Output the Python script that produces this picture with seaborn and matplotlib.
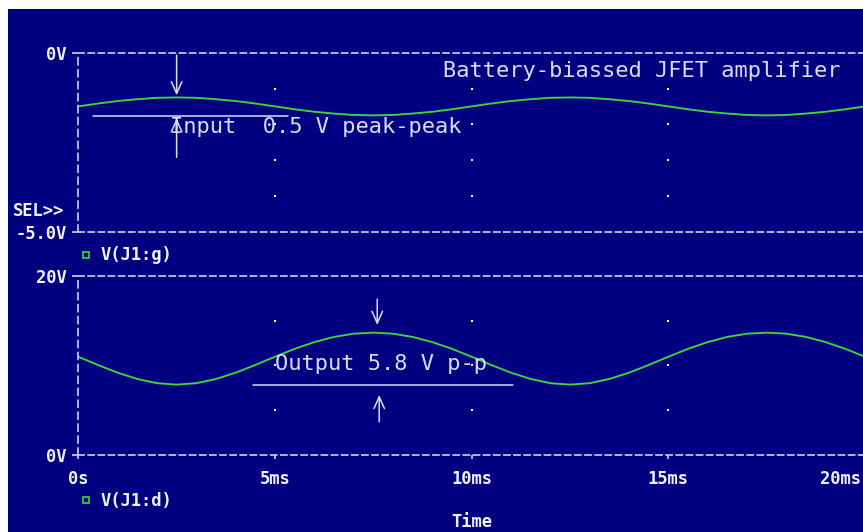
import numpy as np
import pandas as pd
import matplotlib
matplotlib.use("Agg")
import matplotlib.pyplot as plt
from matplotlib.lines import Line2D
from matplotlib.patches import Rectangle
from matplotlib.transforms import ScaledTranslation
import seaborn as sns

# ---- transient simulation samples -------------------------------------
time_ms = [0.0, 0.5, 1.0, 1.5, 2.0, 2.5, 3.0, 3.5, 4.0, 4.5,
           5.0, 5.5, 6.0, 6.5, 7.0, 7.5, 8.0, 8.5, 9.0, 9.5,
           10.0, 10.5, 11.0, 11.5, 12.0, 12.5, 13.0, 13.5, 14.0, 14.5,
           15.0, 15.5, 16.0, 16.5, 17.0, 17.5, 18.0, 18.5, 19.0, 19.5,
           20.0]

# gate voltage V(J1:g)
gate_v = [-1.50, -1.42, -1.35, -1.30, -1.26, -1.25, -1.26, -1.30, -1.35, -1.42,
          -1.50, -1.58, -1.65, -1.70, -1.74, -1.75, -1.74, -1.70, -1.65, -1.58,
          -1.50, -1.42, -1.35, -1.30, -1.26, -1.25, -1.26, -1.30, -1.35, -1.42,
          -1.50, -1.58, -1.65, -1.70, -1.74, -1.75, -1.74, -1.70, -1.65, -1.58,
          -1.50]

# drain voltage V(J1:d)
drain_v = [10.96, 10.04, 9.18, 8.48, 8.01, 7.85, 8.01, 8.48, 9.18, 10.04,
           10.96, 11.84, 12.59, 13.17, 13.53, 13.65, 13.53, 13.17, 12.59, 11.84,
           10.96, 10.04, 9.18, 8.48, 8.01, 7.85, 8.01, 8.48, 9.18, 10.04,
           10.96, 11.84, 12.59, 13.17, 13.53, 13.65, 13.53, 13.17, 12.59, 11.84,
           10.96]

in_ticks = [0, -5]
in_tick_labels = ["0V", "-5.0V"]
out_ticks = [20, 0]
out_tick_labels = ["20V", "0V"]
time_ticks = [0, 5, 10, 15, 20]
time_tick_labels = ["0s", "5ms", "10ms", "15ms", "20ms"]

grid_t = [5, 10, 15]
grid_v_in = [-1, -2, -3, -4]
grid_v_out = [5, 10, 15]

# input peak / trough levels and output trough level for the markers
in_peak, in_trough = -1.25, -1.75
out_peak, out_trough = 13.65, 7.85

# ---- style ------------------------------------------------------------
NAVY = "#000080"
GREEN = "#3ad83c"
FRAME = "#d2d2ea"
TEXT = "#f2f2fa"
NOTE = "#dcdcf0"

sns.set_style("dark", rc={"axes.facecolor": NAVY, "axes.grid": False})
plt.rcParams["lines.scale_dashes"] = False
plt.rcParams["font.family"] = ["DejaVu Sans Mono", "DejaVu Sans"]
plt.rcParams["font.weight"] = "bold"

W, H = 863, 532
fig = plt.figure(figsize=(W / 100, H / 100), dpi=100, facecolor="white")
fig.patches.append(Rectangle((8 / W, 0), 1, 1 - 9 / H, transform=fig.transFigure,
                             facecolor=NAVY, edgecolor="none", zorder=-5))

left = 78.3 / W
width = (865 - 78.3) / W
ax_in = fig.add_axes([left, 1 - 231.7 / H, width, (231.7 - 52.7) / H])
ax_out = fig.add_axes([left, 1 - 455.0 / H, width, (455.0 - 275.7) / H])

LBL = dict(family="DejaVu Sans Mono", weight="bold", size=12.3)
ANN = dict(family="DejaVu Sans Mono", weight="normal", size=15.8)

for ax in (ax_in, ax_out):
    ax.set_facecolor(NAVY)
    for side in ("top", "bottom"):
        ax.spines[side].set_visible(True)
        ax.spines[side].set_color(FRAME)
        ax.spines[side].set_linewidth(1.2)
        ax.spines[side].set_linestyle((0, (4.4, 2.9)))
    ax.spines["left"].set_visible(True)
    ax.spines["left"].set_color(FRAME)
    ax.spines["left"].set_linewidth(1.2)
    ax.spines["left"].set_linestyle((0, (5.0, 3.6)))
    ax.spines["right"].set_visible(False)
    ax.set_xlim(0, 20)
    ax.tick_params(axis="y", direction="out", length=4, width=1.2, color=FRAME,
                   pad=4.5, labelcolor=TEXT, labelsize=LBL["size"], left=True)

df = pd.DataFrame({"t": time_ms, "vg": gate_v, "vd": drain_v})

sns.lineplot(data=df, x="t", y="vg", ax=ax_in, color=GREEN, linewidth=1.35,
             estimator=None, legend=False)
sns.lineplot(data=df, x="t", y="vd", ax=ax_out, color=GREEN, linewidth=1.35,
             estimator=None, legend=False)

ax_in.set_ylim(-5, 0)
ax_out.set_ylim(0, 20)
ax_in.set_yticks(in_ticks, in_tick_labels)
ax_out.set_yticks(out_ticks, out_tick_labels)
ax_in.set_xticks([])
ax_out.set_xticks(time_ticks, time_tick_labels)
ax_out.tick_params(axis="x", direction="out", length=3, width=1.2, color=FRAME,
                   pad=7.5, labelcolor=TEXT, labelsize=LBL["size"], bottom=True)
last = ax_out.get_xticklabels()[-1]
last.set_horizontalalignment("right")
last.set_transform(last.get_transform() + ScaledTranslation(-4 / 100, 0, fig.dpi_scale_trans))
for ax in (ax_in, ax_out):
    ax.set_ylabel("")
    for lab in ax.get_yticklabels() + ax.get_xticklabels():
        lab.set_fontweight("bold")

ax_in.set_xlabel("")
ax_out.set_xlabel("Time", color=TEXT, fontdict=LBL, va="center")
ax_out.xaxis.set_label_coords(0.5, -0.374)

# dotted grid points
for ax, vs in ((ax_in, grid_v_in), (ax_out, grid_v_out)):
    tt, vv = np.meshgrid(grid_t, vs)
    ax.scatter(tt.ravel(), vv.ravel(), s=2.2, marker="s", color="white",
               linewidths=0, zorder=3)

# trace legends
def trace_legend(ax, label, y_px):
    h = Line2D([], [], marker="s", markersize=4.6, markerfacecolor="none",
               markeredgecolor=GREEN, markeredgewidth=1.2, linestyle="none")
    leg = ax.legend(handles=[h], labels=[label], loc="center left",
                    bbox_to_anchor=(78 / W, 1 - y_px / H),
                    bbox_transform=fig.transFigure, frameon=False,
                    borderpad=0, borderaxespad=0, handlelength=0.95,
                    handletextpad=0.35, prop=LBL, labelcolor=TEXT)
    return leg

trace_legend(ax_in, "V(J1:g)", 255.5)
trace_legend(ax_out, "V(J1:d)", 500.5)

fig.text(13 / W, 1 - 211 / H, "SEL>>", ha="left", va="center", color=TEXT, **LBL)

# ---- annotations --------------------------------------------------------
arrow = dict(arrowstyle="->,head_length=0.85,head_width=0.38", color=NOTE,
             lw=1.1, shrinkA=0, shrinkB=0, mutation_scale=10)

ax_in.text(9.27, -0.67, "Battery-biassed JFET amplifier", ha="left",
           va="baseline", color=NOTE, **ANN)
ax_in.annotate("", xy=(2.5, in_peak + 0.06), xytext=(2.5, -0.07), arrowprops=arrow)
ax_in.plot([0.37, 5.33], [in_trough - 0.03, in_trough - 0.03], color=NOTE, lw=1.1)
ax_in.annotate("", xy=(2.5, in_trough - 0.08), xytext=(2.5, -2.92), arrowprops=arrow)
ax_in.text(2.34, -2.25, "Input  0.5 V peak-peak", ha="left", va="baseline",
           color=NOTE, **ANN)

ax_out.annotate("", xy=(7.6, out_peak + 0.85), xytext=(7.6, 17.4), arrowprops=arrow)
ax_out.plot([4.43, 11.05], [out_trough, out_trough], color=NOTE, lw=1.1)
ax_out.annotate("", xy=(7.65, out_trough - 1.15), xytext=(7.65, 3.7), arrowprops=arrow)
ax_out.text(5.0, 9.48, "Output 5.8 V p-p", ha="left", va="baseline",
            color=NOTE, **ANN)

fig.savefig("out.png", dpi=100, facecolor=fig.get_facecolor())
